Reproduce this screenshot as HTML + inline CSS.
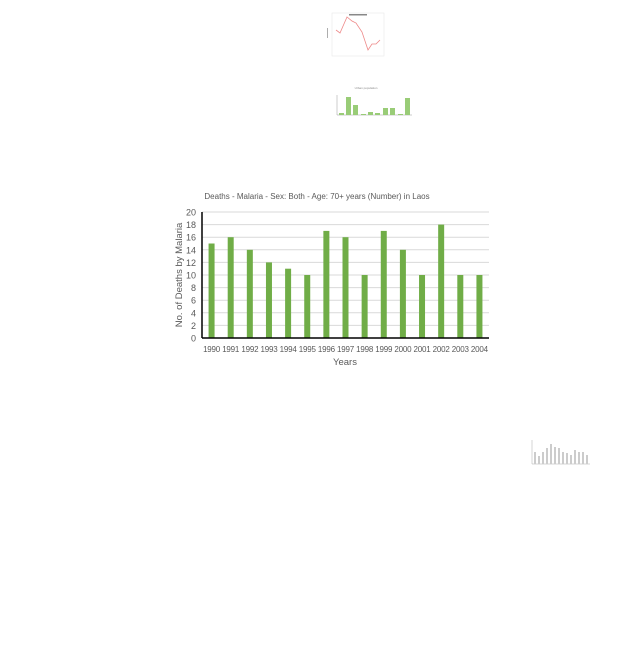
<!DOCTYPE html>
<html><head><meta charset="utf-8"><style>
body{margin:0;background:#fff;width:640px;height:640px;overflow:hidden;font-family:"Liberation Sans",sans-serif}
</style></head><body>
<svg id="s" width="640" height="640" xmlns="http://www.w3.org/2000/svg">
<g>
<rect x="332" y="13" width="52" height="43" fill="#fff" stroke="#e4e4e4" stroke-width="0.5"/>
<rect x="349" y="14" width="18" height="1.5" fill="#888"/>
<polyline points="336,30 340,33 347,17 352,21 356,23 362,32 368,50 372,44 376,44 380,40" fill="none" stroke="#e88" stroke-width="0.8"/>
<rect x="327" y="28" width="0.8" height="10" fill="#999"/>
</g>
<g>
<text x="366" y="89" font-size="3" fill="#888" text-anchor="middle">Urban population</text>
<line x1="337" y1="95" x2="337" y2="115" stroke="#999" stroke-width="0.5"/>
<line x1="337" y1="115" x2="412" y2="115" stroke="#999" stroke-width="0.5"/>
<rect x="339" y="113" width="5" height="2" fill="#9c7"/>
<rect x="346" y="97" width="5" height="18" fill="#9c7"/>
<rect x="353" y="105" width="5" height="10" fill="#9c7"/>
<rect x="361" y="114" width="5" height="1" fill="#9c7"/>
<rect x="368" y="112" width="5" height="3" fill="#9c7"/>
<rect x="375" y="113" width="5" height="2" fill="#9c7"/>
<rect x="383" y="108" width="5" height="7" fill="#9c7"/>
<rect x="390" y="108" width="5" height="7" fill="#9c7"/>
<rect x="398" y="114" width="5" height="1" fill="#9c7"/>
<rect x="405" y="98" width="5" height="17" fill="#9c7"/>
</g>
<g>
<line x1="532" y1="440" x2="532" y2="464" stroke="#aaa" stroke-width="0.5"/>
<line x1="532" y1="464" x2="590" y2="464" stroke="#aaa" stroke-width="0.5"/>
<rect x="534" y="452" width="2" height="12" fill="#ccc"/><rect x="538" y="456" width="2" height="8" fill="#ccc"/>
<rect x="542" y="452" width="2" height="12" fill="#ccc"/><rect x="546" y="448" width="2" height="16" fill="#ccc"/>
<rect x="550" y="444" width="2" height="20" fill="#ccc"/><rect x="554" y="447" width="2" height="17" fill="#ccc"/>
<rect x="558" y="448" width="2" height="16" fill="#ccc"/><rect x="562" y="452" width="2" height="12" fill="#ccc"/>
<rect x="566" y="453" width="2" height="11" fill="#ccc"/><rect x="570" y="455" width="2" height="9" fill="#ccc"/>
<rect x="574" y="450" width="2" height="14" fill="#ccc"/><rect x="578" y="452" width="2" height="12" fill="#ccc"/>
<rect x="582" y="452" width="2" height="12" fill="#ccc"/><rect x="586" y="455" width="2" height="9" fill="#ccc"/>
</g>
<g id="main"></g>
</svg>
<script>
const years=["1990","1991","1992","1993","1994","1995","1996","1997","1998","1999","2000","2001","2002","2003","2004"];
const deaths=[15,16,14,12,11,10,17,16,10,17,14,10,18,10,10];
const yTicks=[0,2,4,6,8,10,12,14,16,18,20];
const NS="http://www.w3.org/2000/svg";
const g=document.getElementById('main');
const x0=202,x1=489,yb=338,yt=212,yMax=20;
const step=(x1-x0)/years.length;
const xC=i=>x0+step*(i+0.5);
const yS=v=>yb-(v/yMax)*(yb-yt);
function mk(t,a){const e=document.createElementNS(NS,t);for(const k in a)e.setAttribute(k,a[k]);g.appendChild(e);return e;}
yTicks.forEach(v=>{
  if(v>0){const l=mk('line',{x1:x0,x2:x1,y1:yS(v),y2:yS(v),stroke:'#d9d9d9','stroke-width':1});
  
  }
  const t=mk('text',{x:x0-6,y:yS(v)+3.5,'font-size':9,fill:'#595959','text-anchor':'end'});t.textContent=v;
  
  
});
years.forEach((yr,i)=>{
  const r=mk('rect',{x:xC(i)-3,y:yS(deaths[i]),width:6,height:yb-yS(deaths[i]),fill:'#70ad47'});
  
  
  const t=mk('text',{x:xC(i),y:352,'font-size':8,fill:'#595959','text-anchor':'middle','letter-spacing':'-0.2'});t.textContent=yr;
  
  
});
const ya=mk('line',{x1:x0,x2:x0,y1:yt,y2:yb,stroke:'#000','stroke-width':1.5});


const xa=mk('line',{x1:x0,x2:x1,y1:yb,y2:yb,stroke:'#000','stroke-width':1.5});


const ti=mk('text',{x:317,y:199,'font-size':8,fill:'#595959','text-anchor':'middle'});ti.textContent='Deaths - Malaria - Sex: Both - Age: 70+ years (Number) in Laos';


const xt=mk('text',{x:345,y:365,'font-size':9.5,fill:'#595959','text-anchor':'middle'});xt.textContent='Years';


const yti=mk('text',{x:0,y:0,'font-size':9.5,fill:'#595959','text-anchor':'middle',transform:'translate(182,275) rotate(-90)'});yti.textContent='No. of Deaths by Malaria';


</script>
</body></html>
